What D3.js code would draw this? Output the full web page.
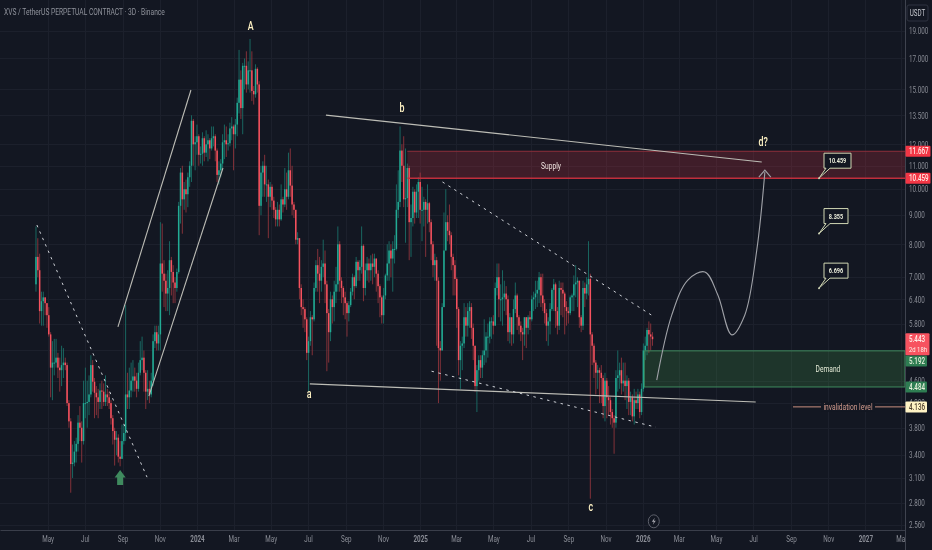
<!DOCTYPE html>
<html>
<head>
<meta charset="utf-8">
<script src="https://cdn.jsdelivr.net/npm/d3@7"></script>
<style>
  html, body { margin: 0; padding: 0; background: #131722; overflow: hidden; }
  text { font-family: Roboto, "Open Sans", sans-serif; }
  svg { filter: blur(0.35px); }
</style>
</head>
<body>
<svg id="chart"></svg>
<script>
// 3 day candles. open of a candle = close of the one before
var firstDate = Date.UTC(2023, 3, 12);
var firstOpen = 6.8;
var closes = [
  7.6,7.2,6.1,6.35,6.45,6.3,6.0,5.55,4.85,4.95,
  4.95,5.05,4.85,4.8,4.9,4.95,4.9,4.2,3.9,3.28,
  3.3,3.45,3.56,3.88,3.8,3.6,4.2,4.2,4.22,4.35,
  4.9,4.58,4.38,4.3,4.22,4.42,4.4,4.22,4.35,4.3,
  4.2,3.95,3.75,3.62,3.65,3.38,3.35,3.6,3.72,4.35,
  4.3,4.42,4.6,4.68,4.6,4.45,4.75,5.0,5.05,4.75,
  4.4,4.45,4.35,4.6,5.4,5.6,5.35,5.55,7.4,7.1,
  6.9,6.55,6.7,7.5,7.15,6.85,6.7,7.15,9.35,10.7,
  9.6,10.0,9.8,10.5,11,13.2,12.0,12.1,12.4,11.5,
  11.55,12.3,11.6,12.0,12.2,11.8,12.3,12.4,11.7,10.6,
  10.8,11.1,12.1,12.2,12.0,12.05,12.8,12.9,12.5,13.0,
  14.2,15.6,13.9,16.5,16.5,15.3,16.2,16.2,14.9,14.7,
  16.3,15.3,9.35,10.7,11,10.2,10.2,9.7,10.1,9.55,
  9.2,8.85,9.2,8.85,9.6,9.4,10.0,9.7,10.8,10.15,
  9.4,9.2,8.15,8.2,6.7,6.2,6.15,5.9,5.15,5.4,
  5.95,5.9,6.7,7.35,7.1,6.9,7.3,7.4,6.8,6.05,
  5.6,6.4,6.2,6.6,6.8,8.0,6.9,6.7,6.45,6.3,
  6.05,6.25,6.6,7.0,6.75,7.45,7.2,7.3,7.95,6.7,
  7.2,7.4,7.2,7.4,7.3,7.55,7.1,6.75,6.45,6.0,
  6.5,7.05,7.4,7.8,7.55,7.85,7.85,9.2,9.5,11.7,
  11.0,9.6,9.65,10.9,8.75,8.9,9.9,9.1,9.9,10.3,
  9.2,9.2,9.5,9.2,9.45,8.75,8.0,7.35,7.5,6.9,
  5.25,5.2,6.2,7.8,8.75,8.45,8.3,7.6,7.35,6.95,
  6.15,5.0,5.3,5.35,5.95,5.75,6.1,6.2,5.7,5.3,
  4.5,4.8,5.0,4.85,5.1,5.2,5.5,5.5,5.85,5.85,
  5.75,6.7,7.0,6.4,6.4,6.45,6.55,6.4,5.6,5.95,
  5.55,6.15,6.5,5.95,5.75,5.6,5.55,5.95,5.7,5.95,
  5.9,6.4,6.45,6.55,6.65,7.0,6.5,6.3,6.05,5.75,
  5.85,6.15,6.65,6.8,6.1,5.75,6.7,6.65,6.55,6.2,
  6.1,6.05,6.45,6.5,6.8,6.85,6.9,5.95,5.75,6.7,
  6.55,6.8,6.95,5.55,5.3,4.95,4.75,4.8,4.75,4.65,
  4.15,4.6,4.3,4.25,4.05,3.95,3.88,4.65,4.7,4.8,
  4.55,4.6,4.5,4.6,4.22,4.3,3.98,4.25,4.2,4.35,
  4.05,4.45,5.2,5.3,5.65,5.55,5.5,5.443
];
var highs = [
  8.6,8.2,7.7,6.6,6.6,6.45,6.3,6.2,5.6,5.4,
  5.45,5.45,5.15,5.05,5.3,5.25,5.05,4.95,4.25,3.95,
  3.55,3.6,3.65,4.0,4.15,3.9,4.6,4.85,4.6,4.7,
  5.1,5.0,4.65,4.5,4.45,4.55,4.6,4.55,4.7,4.45,
  4.4,4.25,4.0,3.8,3.75,3.7,3.6,3.85,3.85,6.25,
  4.75,4.85,4.95,5.0,4.85,4.75,4.95,5.4,5.5,5.2,
  4.8,4.8,4.6,4.75,5.55,5.75,5.75,5.75,8.75,8.7,
  7.5,7.1,7.2,8.1,7.6,7.35,7.0,7.25,9.5,10.9,
  11.0,10.3,10.4,10.7,11.2,13.5,13.3,12.4,13.0,12.5,
  11.9,12.6,12.4,12.7,12.5,12.3,12.9,12.9,12.5,11.8,
  11.2,11.3,12.5,13,12.9,12.5,13.1,13.4,13.0,13.3,
  14.5,17.6,16.2,16.7,17,17.5,16.8,18.4,17.5,15.2,
  16.6,16.4,15.5,11,11.2,11.5,11,10.4,10.3,10.2,
  9.7,9.3,9.5,9.4,10.2,9.7,10.9,10.7,11.6,11.8,
  11,9.5,9.2,8.4,8.2,6.8,6.4,6.2,5.95,5.5,
  6.1,6.0,6.85,7.5,7.85,7.6,7.5,8.15,7.8,6.9,
  6.15,6.6,6.5,6.9,7.3,8.6,8.1,7.0,6.75,6.6,
  6.35,6.35,6.7,7.1,7.05,7.6,7.5,7.5,8.6,8.0,
  7.4,7.6,7.55,7.65,7.7,7.7,7.55,7.2,6.8,6.5,
  6.7,7.1,8.0,8.1,8.0,8.1,8.3,10.2,10.8,12.9,
  12.0,12.4,11.8,11.1,11,9.4,10.1,10,10.2,10.5,
  10.7,10.1,9.7,9.6,10.2,9.5,8.85,8.1,7.7,7.6,
  7,5.4,6.3,9.1,10,9.0,9.4,8.4,7.7,7.5,
  7.0,6.2,5.4,5.5,6.3,6.2,6.3,6.35,6.3,5.8,
  5.3,4.9,5.1,5.1,5.2,5.9,5.6,5.8,5.95,5.95,
  6.0,6.85,7.4,7.4,6.8,7.2,6.9,6.75,6.5,6.05,
  5.95,6.4,6.85,6.55,6.0,5.85,5.7,5.95,5.95,6.0,
  6.1,6.5,6.6,6.9,6.9,7.15,7.1,7.1,6.4,6.15,
  5.95,6.3,6.7,6.95,6.85,6.2,6.9,6.85,6.85,6.6,
  6.35,6.2,6.5,6.55,7.05,7.35,7.0,6.9,6.0,6.9,
  6.85,7.0,8.1,7.1,5.6,5.35,5.0,4.9,4.85,4.9,
  4.7,4.75,4.65,4.5,4.3,4.1,4.0,4.8,5.2,4.95,
  5.05,4.95,4.95,4.7,4.65,4.4,4.35,4.45,4.4,4.45,
  4.4,4.55,5.35,5.5,5.7,5.85,5.8,5.6
];
var lows = [
  6.6,7.0,5.8,5.75,5.75,6.0,5.7,5.5,4.3,4.25,
  4.7,4.85,4.65,4.4,4.5,4.65,4.8,4.15,3.8,2.92,
  3.1,3.25,3.3,3.45,3.6,3.3,3.55,3.95,3.8,4.0,
  4.3,4.4,3.95,4.0,3.95,4.1,4.1,4.15,4.15,4.15,
  4.1,3.85,3.55,3.26,3.4,3.3,3.25,3.35,3.55,3.6,
  4.1,4.1,4.3,4.4,4.4,4.3,4.4,4.7,4.8,4.4,
  4.1,4.25,4.2,4.3,4.5,5.25,5.2,5.2,5.2,6.6,
  6.2,6.1,6.1,6.0,6.5,6.3,6.3,6.6,7.1,8.7,
  8.35,9.2,9.1,9.3,10.1,10.3,11.0,10.8,11.5,11.0,
  11.1,11.0,11.2,11.4,11.2,11.3,11.7,11.9,11.2,10.3,
  10.2,10.5,10.9,11.3,11.4,11.7,11.9,12.2,10.8,11.8,
  12.4,13.6,13.3,12.5,15.0,14.8,15,14.8,14.3,14.1,
  14.5,14.8,8.3,9.0,9.7,9.7,9.5,8.2,9.3,9.2,
  8.9,8.6,8.6,8.6,8.8,9.1,9.3,9.2,9.6,9.7,
  9.0,8.9,8.0,8,6.4,6.0,5.7,5.6,5.0,4.4,
  5.3,5.1,5.85,6.6,6.6,6.3,6.6,7.0,6.3,4.78,
  4.95,5.4,5.8,5.85,6.3,6.6,6.6,6.3,6.0,5.9,
  5.5,5.85,6.2,6.5,6.4,6.7,6.9,6.9,7.1,6.35,
  6.5,6.9,6.85,6.9,6.8,7.0,6.6,6.3,5.95,5.8,
  5.8,6.4,6.9,6.9,7.0,6.6,7.4,7.8,8.9,9.3,
  10.3,9.3,8.05,9.3,7.5,7.6,8.6,8.7,8.9,8.9,
  8.7,8.1,8.6,7.6,8.7,8.4,7.5,7.0,6.9,5.3,
  4.2,4.6,5.2,6.2,7.8,8.1,8.0,7.2,6.5,6.5,
  5.7,4.7,4.45,4.8,5.25,5.5,5.5,5.7,5.45,5.0,
  4.4,4.05,4.6,4.65,4.65,4.9,4.95,5.05,5.35,5.45,
  5.55,5.75,6.5,5.95,5.85,5.75,6.1,6.0,5.4,5.35,
  5.3,5.35,6.05,5.65,5.55,5.4,5.0,5.3,5.25,5.55,
  5.65,5.85,6.1,6.15,6.2,6.3,6.2,6.1,5.8,5.4,
  5.3,5.55,6.1,6.1,5.7,5.55,5.65,6.0,5.95,5.55,
  5.75,5.8,6.0,6.1,6.1,6.45,6.2,5.7,5.6,5.65,
  6.2,6.4,6.5,2.85,4.9,4.65,4.35,4.45,4.2,4.2,
  3.95,3.9,3.95,4.0,3.85,3.8,3.42,3.8,4.4,4.45,
  4.35,4.4,4.25,4.1,4.0,4.0,3.9,3.85,4.1,4.1,
  3.95,4.0,4.4,5.0,5.1,5.15,5.2,5.3
];

// 5.2 has a grid line but its label sits under the price tags
var priceTicks = [19, 17, 15, 13.5, 12, 11, 10, 9, 8, 7, 6.4, 5.8, 4.6, 4.2, 3.8, 3.4, 3.1, 2.8, 2.56];
var gridPrices = priceTicks.concat([5.2]);
var monthLabels = ["May","Jul","Sep","Nov","2024","Mar","May","Jul","Sep","Nov","2025","Mar","May","Jul","Sep","Nov","2026","Mar","May","Jul","Sep","Nov","2027","Mar"];
var monthDates = [[2023,4],[2023,6],[2023,8],[2023,10],[2024,0],[2024,2],[2024,4],[2024,6],[2024,8],[2024,10],[2025,0],[2025,2],[2025,4],[2025,6],[2025,8],[2025,10],[2026,0],[2026,2],[2026,4],[2026,6],[2026,8],[2026,10],[2027,0],[2027,2]];

var supplyZone = [11.667, 10.459], supplyStartBar = 203;
var demandZone = [5.192, 4.484], demandStartBar = 332.5;
var invalidation = 4.136;
var lastPrice = 5.443;

// drawings as [bar index, price], bars past the last candle are future dates
var solidLines = [
  [[158.5, 13.51], [396.7, 11.17]],
  [[149.7, 4.54], [393.4, 4.22]],
  [[44.8, 5.72], [84.7, 14.96]],
  [[61.7, 4.32], [102.2, 10.9]]
];
var dashedLines = [
  [[0.5, 8.65], [60.7, 3.11]],
  [[222.2, 10.3], [337.2, 5.98]],
  [[216.2, 4.78], [338.8, 3.81]]
];
var projection = [[339.3,4.61],[347.5,6.0],[356.3,6.92],[365.6,7.15],[372.7,6.51],[380.3,5.54],[387.4,6.0],[394,7.82],[398.4,10.72]];
var waveLabels = [["A", 117.3, 19.1], ["b", 200, 13.68], ["a", 149.3, 4.29], ["c", 303.3, 2.71], ["d?", 397.5, 11.9]];
var targets = [10.459, 8.355, 6.696], targetBar = 428;

var width = 932, height = 550;
var plotW = 905, plotH = 530;
var dayMs = 86400000;

var svg = d3.select("#chart").attr("width", width).attr("height", height).style("display", "block");

var x = d3.scaleUtc().domain([Date.UTC(2023, 1, 12), Date.UTC(2027, 2, 7)]).range([0, plotW]);
var y = d3.scaleLog().domain([21.55, 2.51]).range([0, plotH]);
var barX = (i) => x(firstDate + i * 3 * dayMs);

var bars = closes.map((c, i) => ({
  i: i,
  open: i == 0 ? firstOpen : closes[i - 1],
  close: c,
  high: highs[i],
  low: lows[i],
}));

// grid
var tickTimes = monthDates.map((d) => Date.UTC(d[0], d[1], 1));
var grid = svg.append("g").attr("stroke", "#1c202c").attr("stroke-width", 1);
grid.selectAll("line.h").data(gridPrices).enter().append("line")
  .attr("x1", 0).attr("x2", plotW)
  .attr("y1", (d) => Math.round(y(d)) + 0.5).attr("y2", (d) => Math.round(y(d)) + 0.5);
grid.selectAll("line.v").data(tickTimes).enter().append("line")
  .attr("y1", 0).attr("y2", plotH)
  .attr("x1", (d) => Math.round(x(d)) + 0.5).attr("x2", (d) => Math.round(x(d)) + 0.5);

// candles
var candles = svg.append("g");
candles.selectAll("line").data(bars).enter().append("line")
  .attr("x1", (d) => barX(d.i)).attr("x2", (d) => barX(d.i))
  .attr("y1", (d) => y(d.high)).attr("y2", (d) => y(d.low))
  .attr("stroke", (d) => (d.close >= d.open ? "#1a6f68" : "#8f343c"))
  .attr("stroke-width", 0.9);
candles.selectAll("rect").data(bars).enter().append("rect")
  .attr("x", (d) => barX(d.i) - 0.75)
  .attr("width", 1.5)
  .attr("y", (d) => y(Math.max(d.open, d.close)))
  .attr("height", (d) => Math.max(1, Math.abs(y(d.open) - y(d.close))))
  .attr("fill", (d) => (d.close >= d.open ? "#22ab94" : "#f7525f"));

// zones
svg.append("rect")
  .attr("x", barX(supplyStartBar)).attr("width", plotW - barX(supplyStartBar))
  .attr("y", y(supplyZone[0])).attr("height", y(supplyZone[1]) - y(supplyZone[0]))
  .attr("fill", "#f23645").attr("fill-opacity", 0.2);
svg.append("line").attr("x1", barX(supplyStartBar)).attr("x2", plotW)
  .attr("y1", y(supplyZone[0])).attr("y2", y(supplyZone[0]))
  .attr("stroke", "#8f2f3b").attr("stroke-width", 1);
svg.append("line").attr("x1", barX(supplyStartBar)).attr("x2", plotW)
  .attr("y1", y(supplyZone[1])).attr("y2", y(supplyZone[1]))
  .attr("stroke", "#c02f3c").attr("stroke-width", 1.4);

svg.append("rect")
  .attr("x", barX(demandStartBar)).attr("width", plotW - barX(demandStartBar))
  .attr("y", y(demandZone[0])).attr("height", y(demandZone[1]) - y(demandZone[0]))
  .attr("fill", "#4caf50").attr("fill-opacity", 0.2)
  .attr("stroke", "#3f8a5e").attr("stroke-width", 1);

// trend lines
var line = d3.line().x((d) => barX(d[0])).y((d) => y(d[1]));
svg.append("g").selectAll("path").data(solidLines).enter().append("path")
  .attr("d", line).attr("fill", "none")
  .attr("stroke", "#bdbdb6").attr("stroke-width", 1.1);
svg.append("g").selectAll("path").data(dashedLines).enter().append("path")
  .attr("d", line).attr("fill", "none")
  .attr("stroke", "#cfd2d8").attr("stroke-width", 1).attr("stroke-dasharray", "2.5 4.5");

// projected path with arrow
var curve = d3.line().x((d) => barX(d[0])).y((d) => y(d[1])).curve(d3.curveCatmullRom);
svg.append("path").attr("d", curve(projection)).attr("fill", "none")
  .attr("stroke", "#a0a2a8").attr("stroke-width", 1.1);
var tip = projection[projection.length - 1];
svg.append("path")
  .attr("transform", `translate(${barX(tip[0])},${y(tip[1]) - 2})`)
  .attr("d", "M-6,7L0,0L6,7")
  .attr("fill", "none").attr("stroke", "#a0a2a8").attr("stroke-width", 1.1);

// green arrow at the low
svg.append("path")
  .attr("transform", `translate(${barX(46)},${y(3.24) + 3})`)
  .attr("d", "M0,0L5.5,7.5L3,7.5L3,15L-3,15L-3,7.5L-5.5,7.5Z")
  .attr("fill", "#3f8a5e");

// wave labels
svg.append("g").selectAll("text").data(waveLabels).enter().append("text")
  .attr("class", "sq")
  .attr("x", (d) => barX(d[1])).attr("y", (d) => y(d[2]))
  .attr("text-anchor", "middle").attr("font-size", 12).attr("font-weight", 500)
  .attr("fill", "#fff3c4").text((d) => d[0]);

// target callouts
var callout = svg.append("g").selectAll("g").data(targets).enter().append("g")
  .attr("transform", (d) => `translate(${barX(targetBar)},${y(d)})`);
callout.append("path")
  .attr("d", (d, i) => {
    var w = i == 0 ? 27 : 24;
    return `M0,0L7,-10L5,-10L5,-25L${5 + w},-25L${5 + w},-10L11,-10Z`;
  })
  .attr("fill", "#131722").attr("stroke", "#d2d8b4").attr("stroke-width", 1).attr("stroke-linejoin", "round");
callout.append("circle").attr("r", 1).attr("fill", "#c8cdb0");
callout.append("text")
  .attr("class", "sq")
  .attr("x", (d, i) => (i == 0 ? 18.5 : 17)).attr("y", -15)
  .attr("text-anchor", "middle").attr("font-size", 7.5).attr("font-weight", 700)
  .attr("fill", "#e8ead8").text((d) => d3.format(".3f")(d));

// zone captions
svg.append("text").attr("class", "sq").attr("x", 551).attr("y", y(11) + 3)
  .attr("text-anchor", "middle").attr("font-size", 9).attr("fill", "#f0e4e0").text("Supply");
svg.append("text").attr("class", "sq").attr("x", 828).attr("y", y(4.82) + 3)
  .attr("text-anchor", "middle").attr("font-size", 9).attr("fill", "#e6ecd8").text("Demand");

// invalidation level
svg.append("line").attr("x1", 793).attr("x2", plotW).attr("y1", y(invalidation)).attr("y2", y(invalidation))
  .attr("stroke", "#c98f7f").attr("stroke-width", 1);
svg.append("rect").attr("x", 821).attr("width", 54).attr("y", y(invalidation) - 5).attr("height", 10).attr("fill", "#131722");
svg.append("text").attr("class", "sq").attr("x", 848).attr("y", y(invalidation) + 3)
  .attr("text-anchor", "middle").attr("font-size", 9).attr("fill", "#d19a8c").text("invalidation level");

// title
svg.append("text").attr("class", "sq").attr("x", 4).attr("y", 15)
  .attr("font-size", 9).attr("fill", "#8f929b").text("XVS / TetherUS PERPETUAL CONTRACT · 3D · Binance");

// lightning mark
var bolt = svg.append("g").attr("transform", `translate(${barX(337.7)},${y(2.6)})`);
bolt.append("ellipse").attr("rx", 5.5).attr("ry", 6.5).attr("fill", "#131722").attr("stroke", "#5d606b").attr("stroke-width", 1);
bolt.append("path").attr("d", "M1,-3.5L-2,0.5L0,0.5L-1,3.5L2,-0.5L0,-0.5Z").attr("fill", "#a9a9b0");

// bottom axis, right axis panel goes over it so the last label is cut
svg.append("rect").attr("x", 0).attr("y", plotH).attr("width", width).attr("height", height - plotH).attr("fill", "#131722");
var xAxis = d3.axisBottom(x).tickValues(tickTimes).tickSize(0).tickPadding(6)
  .tickFormat((d, i) => monthLabels[i]);
var xg = svg.append("g").attr("transform", `translate(0,${plotH})`).call(xAxis);
xg.select(".domain").attr("stroke", "#3a3e4a");
xg.selectAll("text").attr("class", "sq").attr("font-size", 8.5).attr("fill", "#8a8d96")
  .attr("font-family", 'Roboto, "Open Sans", sans-serif')
  .attr("font-weight", (d, i) => (/^20/.test(monthLabels[i]) ? 700 : 400));

svg.append("rect").attr("x", plotW).attr("y", 0).attr("width", width - plotW).attr("height", height).attr("fill", "#131722");
var yAxis = d3.axisRight(y).tickValues(priceTicks).tickSize(0).tickPadding(4)
  .tickFormat(d3.format(".3f"));
var yg = svg.append("g").attr("transform", `translate(${plotW},0)`).call(yAxis);
yg.select(".domain").remove();
yg.selectAll("text").attr("class", "sq").attr("font-size", 8.5).attr("fill", "#8a8d96")
  .attr("font-family", 'Roboto, "Open Sans", sans-serif');
svg.append("line").attr("x1", plotW + 0.5).attr("x2", plotW + 0.5).attr("y1", 0).attr("y2", height)
  .attr("stroke", "#3f434f").attr("stroke-width", 1);

// price labels on the axis
var axisLabels = [
  { text: "11.667", price: 11.667, bg: "#f23645", fg: "#ffe9e4" },
  { text: "10.459", price: 10.459, bg: "#f23645", fg: "#ffe9e4" },
  { text: "5.192", price: 4.98, bg: "#2e7d52", fg: "#e8f0dc" },
  { text: "4.484", price: 4.484, bg: "#2e7d52", fg: "#e8f0dc" },
  { text: "4.136", price: invalidation, bg: "#fff3c4", fg: "#4a3a2a" },
];
var al = svg.append("g").selectAll("g").data(axisLabels).enter().append("g")
  .attr("transform", (d) => `translate(${plotW},${y(d.price)})`);
al.append("rect").attr("x", 0.5).attr("y", -5.5).attr("height", 11).attr("rx", 1)
  .attr("width", (d) => (d.text.length > 5 ? 25 : 21.5)).attr("fill", (d) => d.bg);
al.append("text").attr("class", "sq").attr("x", 4).attr("y", 3).attr("font-size", 8.5).attr("font-weight", 500)
  .attr("fill", (d) => d.fg).text((d) => d.text);

// last price tag with countdown
var last = svg.append("g").attr("transform", `translate(${plotW},${y(lastPrice)})`);
last.append("rect").attr("x", 0.5).attr("y", -6).attr("width", 24).attr("height", 22).attr("rx", 1).attr("fill", "#f7525f");
last.append("text").attr("class", "sq").attr("x", 4).attr("y", 3).attr("font-size", 8.5).attr("font-weight", 500)
  .attr("fill", "#ffeee8").text("5.443");
last.append("text").attr("class", "sq").attr("x", 4).attr("y", 12.5).attr("font-size", 8)
  .attr("fill", "#ffeee8").text("2d 18h");

// currency box
svg.append("rect").attr("x", 907).attr("y", 5).attr("width", 21).attr("height", 16).attr("rx", 2)
  .attr("fill", "#131722").attr("stroke", "#2f3340").attr("stroke-width", 1);
svg.append("text").attr("class", "sq").attr("x", 917.5).attr("y", 16).attr("text-anchor", "middle")
  .attr("font-size", 8.5).attr("fill", "#c4c6cc").text("USDT");

// the reference is horizontally squeezed, narrow all text to match
svg.selectAll("text.sq").each(function () {
  var tx = +this.getAttribute("x") || 0;
  d3.select(this).attr("transform", `translate(${tx},0) scale(0.74,1) translate(${-tx},0)`);
});
</script>
</body>
</html>
